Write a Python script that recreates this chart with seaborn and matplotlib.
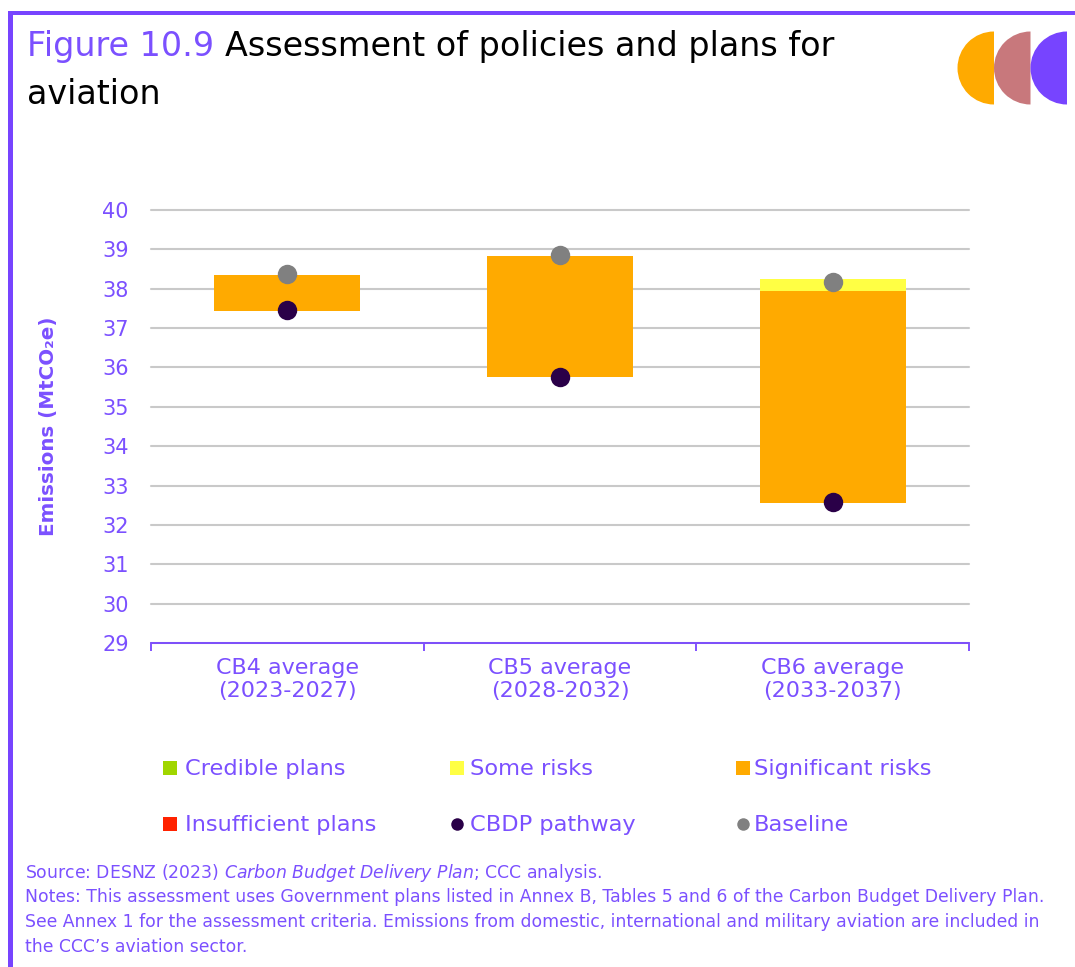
import numpy as np
import matplotlib
matplotlib.use("Agg")
import matplotlib.pyplot as plt
import seaborn as sns
from matplotlib.patches import Wedge, Rectangle

# ---------------- data ----------------
categories = ["CB4 average\n(2023-2027)", "CB5 average\n(2028-2032)", "CB6 average\n(2033-2037)"]
bar_base = [37.43, 35.76, 32.56]          # bottom of the assessed range
insufficient_plans = [0.0, 0.0, 0.0]
significant_risks = [0.92, 3.07, 5.38]
some_risks = [0.0, 0.0, 0.31]
credible_plans = [0.0, 0.0, 0.0]
cbdp_pathway = [37.45, 35.76, 32.58]
baseline = [38.37, 38.85, 38.17]
y_ticks = list(range(29, 41))
legend_labels = ["Credible plans", "Some risks", "Significant risks",
                 "Insufficient plans", "CBDP pathway", "Baseline"]
title_num = "Figure 10.9"
title_line1 = "Assessment of policies and plans for"
title_line2 = "aviation"
y_label = "Emissions (MtCO\u2082e)"
source_lines = [
    r"Source: DESNZ (2023) $\mathit{Carbon\ Budget\ Delivery\ Plan}$; CCC analysis.",
    "Notes: This assessment uses Government plans listed in Annex B, Tables 5 and 6 of the Carbon Budget Delivery Plan.",
    "See Annex 1 for the assessment criteria. Emissions from domestic, international and military aviation are included in",
    "the CCC\u2019s aviation sector.",
]

# ---------------- style ----------------
PURPLE = "#7744FF"
TXT = "#7B50FF"
ORANGE = "#FFAA00"
YELLOW = "#FFFF44"
GREEN = "#A0D600"
RED = "#FF2200"
DARK = "#2A0048"
GREY = "#808080"
ROSE = "#C8787C"

sns.set_theme(style="white")
plt.rcParams["font.family"] = ["DejaVu Sans"]
plt.rcParams["mathtext.fontset"] = "dejavusans"

W, H = 1075, 967
fig = plt.figure(figsize=(W / 100, H / 100), dpi=100)
fig.patch.set_facecolor("white")

ax = fig.add_axes([151 / W, 1 - 643 / H, 818 / W, 433 / H])

b0 = np.array(bar_base)
b1 = b0 + np.array(insufficient_plans)
b2 = b1 + np.array(significant_risks)
b3 = b2 + np.array(some_risks)
bw = 0.535
common = dict(width=bw, saturation=1, errorbar=None, linewidth=0, ax=ax)
sns.barplot(x=categories, y=insufficient_plans, bottom=b0, color=RED, **common)
sns.barplot(x=categories, y=significant_risks, bottom=b1, color=ORANGE, **common)
sns.barplot(x=categories, y=some_risks, bottom=b2, color=YELLOW, **common)
sns.barplot(x=categories, y=credible_plans, bottom=b3, color=GREEN, **common)

sns.stripplot(x=categories, y=baseline, jitter=False, size=14, color=GREY,
              linewidth=0, ax=ax, zorder=5)
sns.stripplot(x=categories, y=cbdp_pathway, jitter=False, size=14, color=DARK,
              linewidth=0, ax=ax, zorder=5)

ax.set_xlim(-0.5, 2.5)
ax.set_ylim(29, 40)
ax.set_yticks(y_ticks)
ax.set_xticks([0, 1, 2])
ax.set_xticklabels(categories)
ax.set_xticks([-0.5, 0.5, 1.5, 2.5], minor=True)
ax.tick_params(axis="x", which="major", length=0, pad=11, labelsize=16, labelcolor=TXT)
ax.tick_params(axis="x", which="minor", bottom=True, length=6, width=1.3,
               color=PURPLE, direction="out")
ax.tick_params(axis="y", which="major", left=False, length=0, pad=16, labelsize=15,
               labelcolor=TXT)
ax.yaxis.grid(True, color="#C9C9C9", linewidth=1.5)
ax.xaxis.grid(False)
ax.set_axisbelow(True)
for gl in ax.get_ygridlines():
    gl.set_clip_on(False)
for s in ["top", "left", "right"]:
    ax.spines[s].set_visible(False)
ax.spines["bottom"].set_color(PURPLE)
ax.spines["bottom"].set_linewidth(1.3)
ax.spines["bottom"].set_zorder(3)
ax.set_xlabel("")
ax.set_ylabel(y_label, fontsize=14.3, fontweight="bold", color=TXT)
ax.yaxis.set_label_coords(-0.114, 0.5)

# ---------------- overlay (pixel coordinates) ----------------
ov = fig.add_axes([0, 0, 1, 1], zorder=-1)
ov.set_xlim(0, W)
ov.set_ylim(H, 0)
ov.axis("off")

# frame lines
ov.add_patch(Rectangle((8, 10.5), W - 8, 4.2, color=PURPLE, lw=0))
ov.add_patch(Rectangle((8, 10.5), 4.5, H - 10.5, color=PURPLE, lw=0))

# logo
for cx, col in [(994, ORANGE), (1030.5, ROSE), (1067, PURPLE)]:
    ov.add_patch(Wedge((cx, 68), 36.5, 90, 270, color=col, lw=0))

# title
renderer = fig.canvas.get_renderer()
tsize = 24
t1 = ov.text(27, 56, title_num, fontsize=tsize, color=TXT, va="baseline", ha="left")
bb = t1.get_window_extent(renderer=renderer)
space = 0.318 * tsize * 100 / 72
ov.text(bb.x1 + space, 56, title_line1, fontsize=tsize, color="black",
        va="baseline", ha="left")
ov.text(27, 104, title_line2, fontsize=tsize, color="black", va="baseline", ha="left")

# legend
legend_specs = [
    ("s", GREEN), ("s", YELLOW), ("s", ORANGE),
    ("s", RED), ("o", DARK), ("o", GREY),
]
marker_x = [170, 457, 743]
text_x = [185, 470, 754]
row_y = [768, 824]
for i, (lab, (mk, col)) in enumerate(zip(legend_labels, legend_specs)):
    r, c = divmod(i, 3)
    ms = 9.4 if mk == "s" else 9.0
    ov.plot([marker_x[c]], [row_y[r]], marker=mk, ms=ms, color=col, ls="none",
            markeredgewidth=0)
    ov.text(text_x[c], row_y[r] + 7, lab, fontsize=16.2, color=TXT,
            va="baseline", ha="left")

# source notes
for j, line in enumerate(source_lines):
    ov.text(25, 878 + 24.5 * j, line, fontsize=12.4, color=TXT, va="baseline", ha="left")

fig.savefig("out.png", dpi=100, facecolor="white")
